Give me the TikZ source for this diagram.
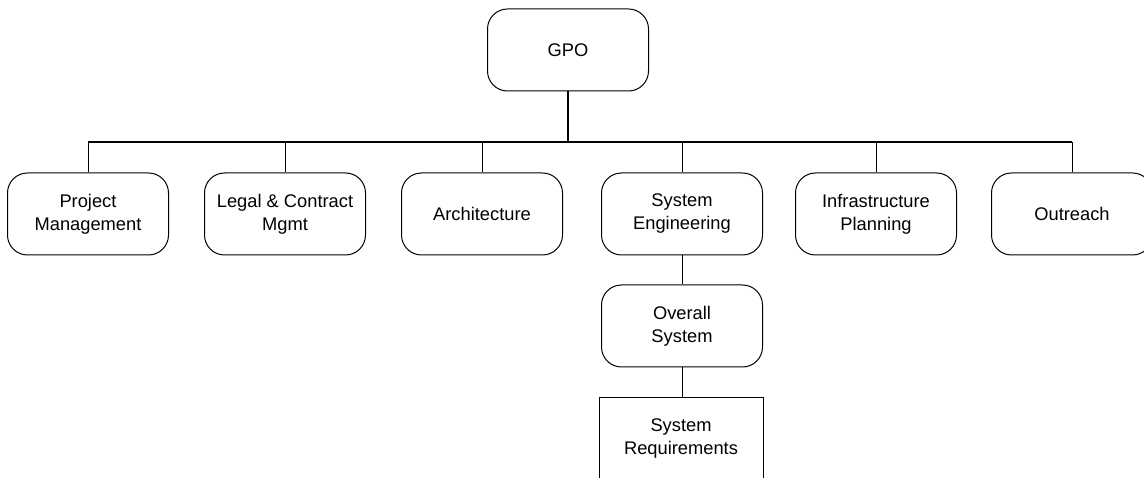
\documentclass[tikz,border=0pt]{standalone}
\usepackage{fontspec}
\setmainfont{Liberation Sans}
\usepackage{tikz}
\usetikzlibrary{positioning}

\begin{document}
\begin{tikzpicture}[x=1pt,y=-1pt,
    unit/.style={draw,line width=1pt,rounded corners=20pt,align=center,
        minimum width=161pt,minimum height=82pt,inner sep=0pt,
        font=\fontsize{18.3}{23}\selectfont},
    plain/.style={unit,rounded corners=0pt,minimum width=164pt},
    link/.style={line width=1pt},
    trunk/.style={line width=2pt}]
        \clip (0,0) rectangle (1144,478);

        \node[unit] at (568,50) (gpo){GPO};

        \node[unit] at (88,214) (pm){Project\\Management};
        \node[unit] at (285,214) (legal){Legal \& Contract\\Mgmt};
        \node[unit] at (482,214) (arch){Architecture};
        \node[unit] at (682,214) (syseng){System\\Engineering};
        \node[unit] at (876,214) (infra){Infrastructure\\Planning};
        \node[unit] at (1072,214) (out){Outreach};

        \node[unit] at (682,326) (overall){Overall\\System};
        \node[plain] at (681,439) (sysreq){System\\Requirements};

        \coordinate (bus) at (568,142);

        \draw[trunk] (gpo) -- (bus);
        \draw[trunk] (pm.north |- bus) -- (out.north |- bus);
        \foreach \n in {pm,legal,arch,syseng,infra,out}
            \draw[link] (\n) -- (\n.north |- bus);
        \draw[link] (syseng) -- (overall);
        \draw[link] (overall) -- (overall.south |- sysreq.north);
    \end{tikzpicture}
\end{document}
